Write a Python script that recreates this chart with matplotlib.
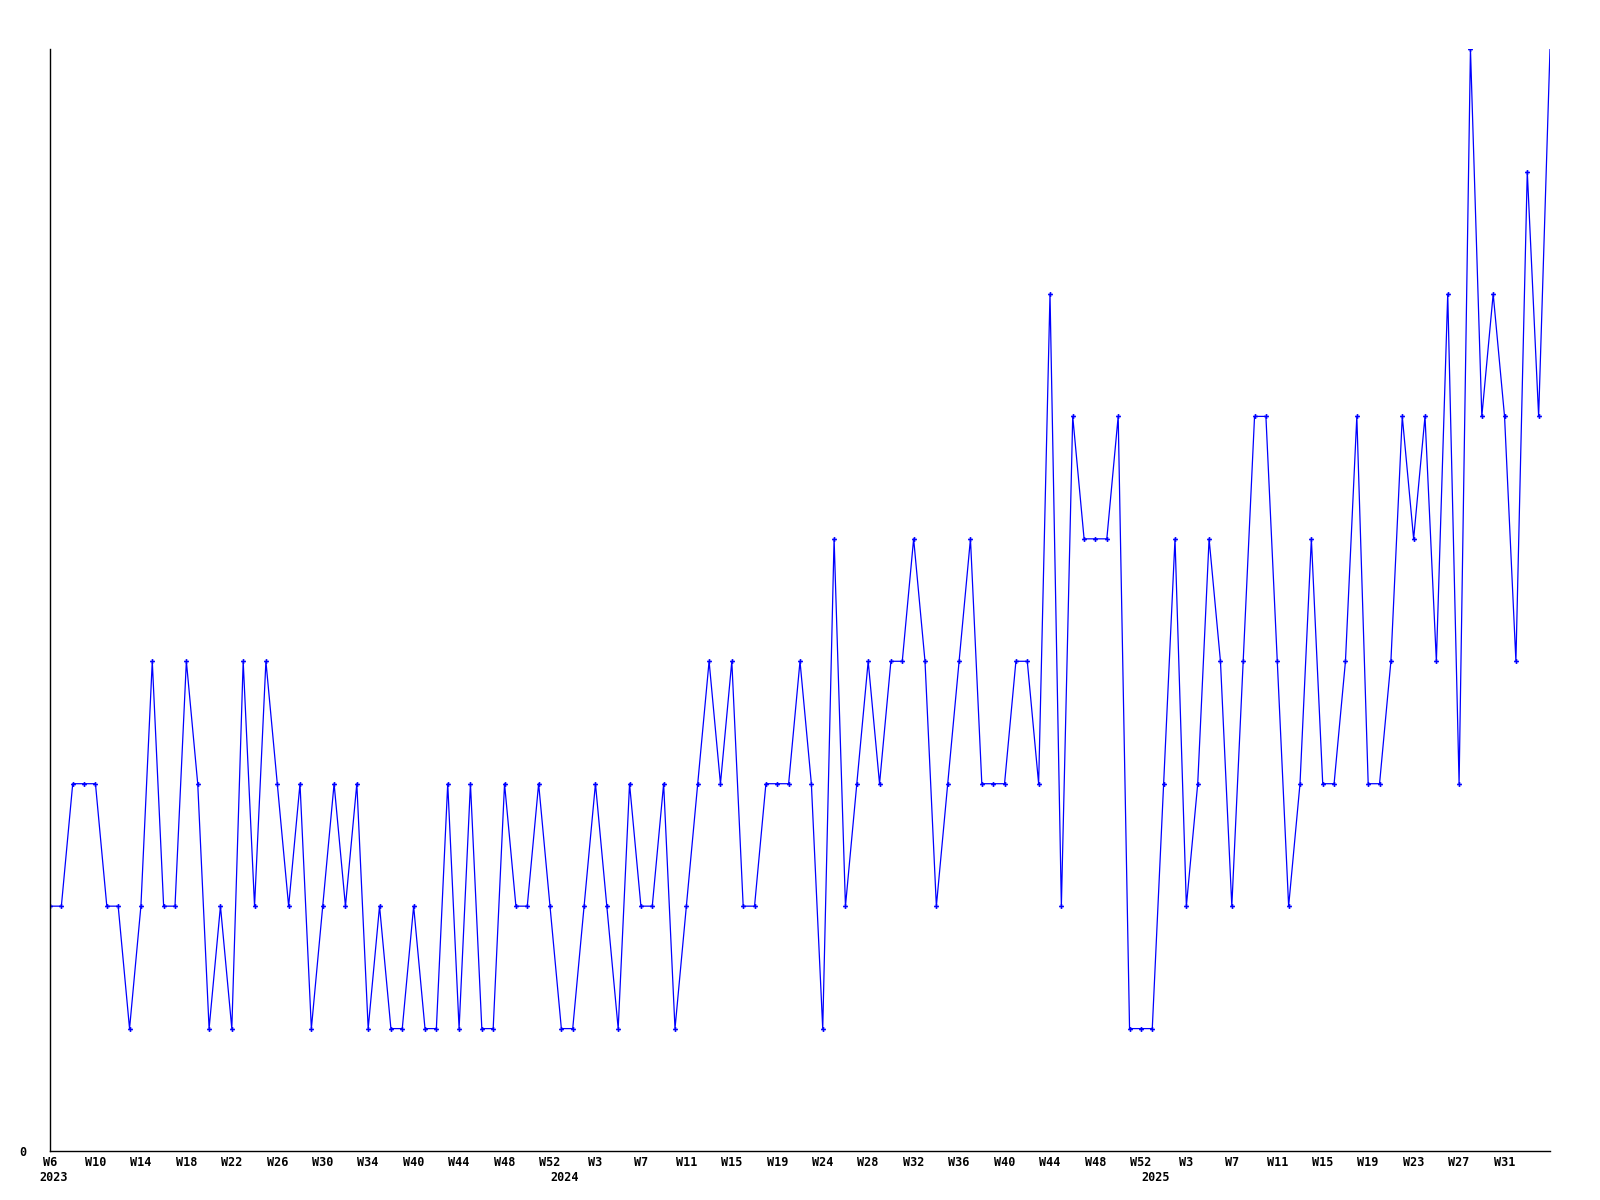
import matplotlib
matplotlib.use("Agg")
import matplotlib.pyplot as plt

# weekly counts, 2023 W6 .. 2025
values = [2, 2, 3, 3, 3, 2, 2, 1, 2, 4, 2, 2, 4, 3, 1, 2, 1, 4, 2, 4,
          3, 2, 3, 1, 2, 3, 2, 3, 1, 2, 1, 1, 2, 1, 1, 3, 1, 3, 1, 1,
          3, 2, 2, 3, 2, 1, 1, 2, 3, 2, 1, 3, 2, 2, 3, 1, 2, 3, 4, 3,
          4, 2, 2, 3, 3, 3, 4, 3, 1, 5, 2, 3, 4, 3, 4, 4, 5, 4, 2, 3,
          4, 5, 3, 3, 3, 4, 4, 3, 7, 2, 6, 5, 5, 5, 6, 1, 1, 1, 3, 5,
          2, 3, 5, 4, 2, 4, 6, 6, 4, 2, 3, 5, 3, 3, 4, 6, 3, 3, 4, 6,
          5, 6, 4, 7, 3, 9, 6, 7, 6, 4, 8, 6, 9]

week_labels = ["W6", "W10", "W14", "W18", "W22", "W26", "W30", "W34", "W40",
               "W44", "W48", "W52",
               "W3", "W7", "W11", "W15", "W19", "W24", "W28", "W32", "W36",
               "W40", "W44", "W48", "W52",
               "W3", "W7", "W11", "W15", "W19", "W23", "W27", "W31"]
week_step = 4

years = ["2023", "2024", "2025"]
year_pos = [0.3, 45.3, 97.3]

font = dict(family="DejaVu Sans Mono", weight="bold", size=8.5)

fig = plt.figure(figsize=(16, 12), dpi=100)
ax = fig.add_axes([0.03125, 0.0408, 0.9375, 0.9183])

x = list(range(len(values)))
ax.plot(x, values, color="#0000ff", lw=0.9, marker="P", markersize=3.5,
        markeredgewidth=0, markevery=list(range(len(values) - 1)))

ax.set_xlim(0, len(values) - 1)
ax.set_ylim(0, max(values))

for s in ["top", "right"]:
    ax.spines[s].set_visible(False)
for s in ["left", "bottom"]:
    ax.spines[s].set_linewidth(1.0)
    ax.spines[s].set_color("black")

ax.set_xticks([i * week_step for i in range(len(week_labels))])
ax.set_xticklabels(week_labels, fontdict=font)
ax.set_yticks([0])
ax.set_yticklabels(["0"], fontdict=font)
ax.tick_params(axis="x", length=0, pad=3.5)
ax.tick_params(axis="y", length=0, pad=17)

for yr, pos in zip(years, year_pos):
    ax.annotate(yr, xy=(pos, 0), xycoords=("data", "axes fraction"),
                xytext=(0, -14.5), textcoords="offset points",
                ha="center", va="top", **font)

fig.savefig("out.png", dpi=100)
